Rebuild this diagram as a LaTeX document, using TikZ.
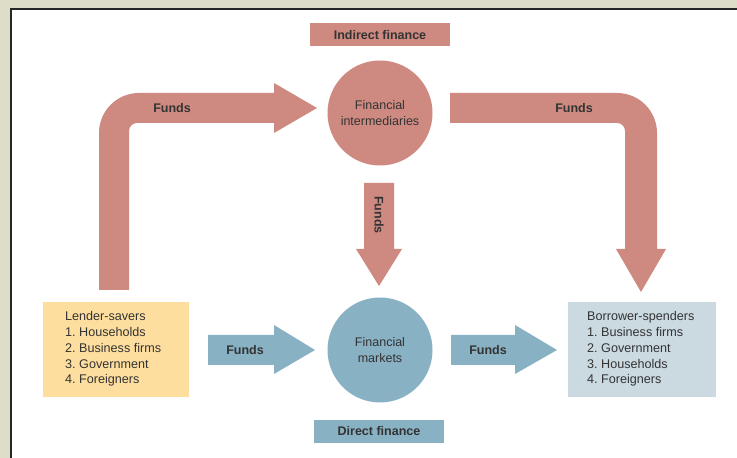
\documentclass[tikz,border=0pt]{standalone}
\usepackage{fontspec}
\setmainfont{Liberation Sans}
\frenchspacing
\definecolor{salmon}{HTML}{CE8A80}
\definecolor{bluec}{HTML}{88B1C4}
\definecolor{lend}{HTML}{FEDE9E}
\definecolor{borr}{HTML}{CBD9E1}
\definecolor{txt}{HTML}{333333}
\definecolor{frame}{HTML}{DEDDC7}
\begin{document}
\begin{tikzpicture}[x=1pt,y=1pt,
  lbl/.style={font=\fontsize{12.5}{15}\selectfont\bfseries, text=txt, inner sep=0pt},
  circtxt/.style={font=\fontsize{12.5}{15.5}\selectfont, text=txt, align=center, inner sep=0pt},
  listtxt/.style={font=\fontsize{12.6}{15.8}\selectfont\frenchspacing, text=txt, align=left, inner sep=0pt, anchor=west},
  bigcircle/.style={circle, minimum size=105pt, inner sep=0pt}]
\useasboundingbox (0,0) rectangle (737,458);
% frame
\fill[frame] (0,0) rectangle (737,458);
\fill[white] (11,0) rectangle (737,449);
\draw[black!85, line width=1.4pt] (11,0) -- (11,449) -- (737,449);
% labels boxes
\node[fill=salmon, minimum width=140pt, minimum height=23pt, lbl] (indir) at (380,423) {Indirect finance};
\node[fill=bluec, minimum width=130pt, minimum height=23pt, lbl] (dir) at (379,26.5) {Direct finance};
% circles
\node[bigcircle, fill=salmon] (fi) at (380,345) {};
\node[circtxt] at (fi) {Financial\\intermediaries};
\node[bigcircle, fill=bluec] (fm) at (380,108) {};
\node[circtxt] at (fm) {Financial\\markets};
% lender/borrower boxes
\node[fill=lend, minimum width=146pt, minimum height=95pt, inner sep=0pt] (lender) at (116,108.5) {};
\node[listtxt] at (65,109) {Lender-savers\\1. Households\\2. Business firms\\3. Government\\4. Foreigners};
\node[fill=borr, minimum width=148pt, minimum height=95pt, inner sep=0pt] (borrower) at (642,108.5) {};
\node[listtxt] at (587,109) {Borrower-spenders\\1. Business firms\\2. Government\\3. Households\\4. Foreigners};
% top-left bent arrow
\fill[salmon] (99,168) -- (99,325) arc (180:90:40) -- (274,365) -- (274,375) -- (317,350)
  -- (274,325) -- (274,335) -- (137,335) arc (90:180:8) -- (129,168) -- cycle;
\node[lbl] (f1) at (172,350) {Funds};
% top-right bent arrow
\fill[salmon] (450,365) -- (617,365) arc (90:0:40) -- (657,209) -- (666,209) -- (641,166)
  -- (616,209) -- (625,209) -- (625,327) arc (0:90:8) -- (450,335) -- cycle;
\node[lbl] (f2) at (574,350) {Funds};
% down arrow
\fill[salmon] (364,275) -- (394,275) -- (394,209) -- (402,209) -- (379,172) -- (356,209) -- (364,209) -- cycle;
\node[lbl, rotate=-90] (f3) at (379,243) {Funds};
% blue arrows
\fill[bluec] (208,93) -- (208,123) -- (274,123) -- (274,133) -- (315,108) -- (274,84) -- (274,93) -- cycle;
\node[lbl] (f4) at (245,108) {Funds};
\fill[bluec] (451,93) -- (451,123) -- (515,123) -- (515,133) -- (557,108) -- (515,84) -- (515,93) -- cycle;
\node[lbl] (f5) at (488,108) {Funds};
\end{tikzpicture}
\end{document}
